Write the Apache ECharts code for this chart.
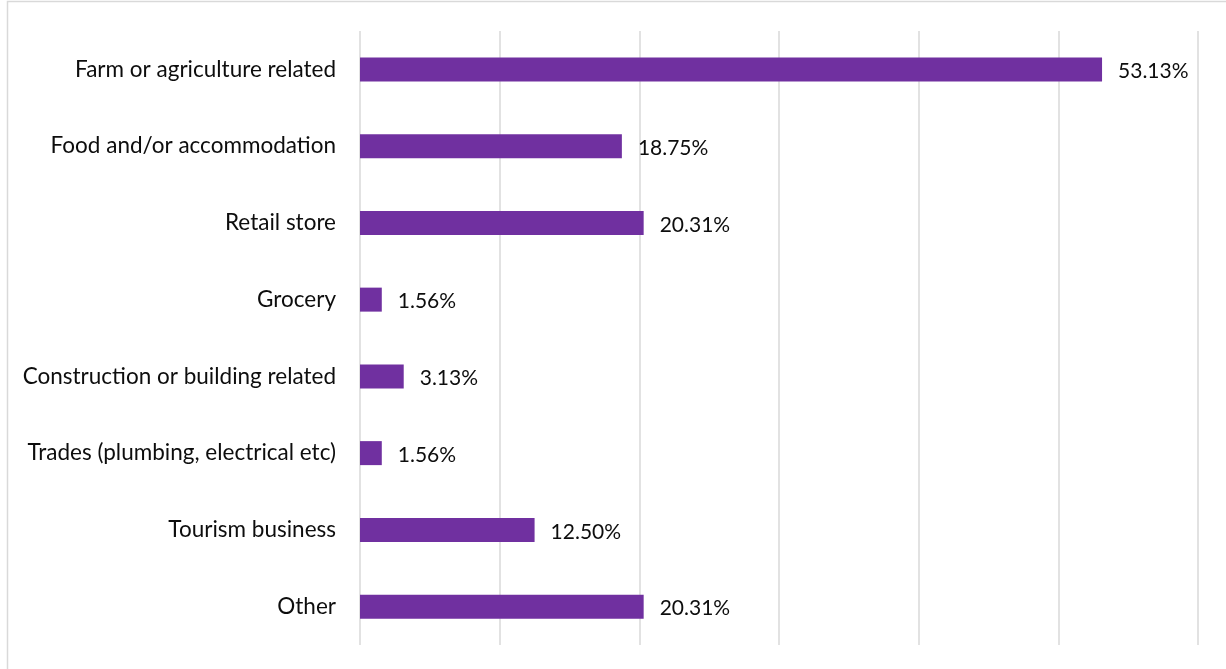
<!DOCTYPE html>
<html>
<head>
<meta charset="utf-8">
<script src="https://cdn.jsdelivr.net/npm/echarts@6/dist/echarts.min.js"></script>
<style>
html,body{margin:0;padding:0;background:#fff;}
#chart{width:1226px;height:669px;}
</style>
</head>
<body>
<div id="chart"></div>
<script>
const categories = [
  "Farm or agriculture related",
  "Food and/or accommodation",
  "Retail store",
  "Grocery",
  "Construction or building related",
  "Trades (plumbing, electrical etc)",
  "Tourism business",
  "Other"
];
const values = [53.13, 18.75, 20.31, 1.56, 3.13, 1.56, 12.50, 20.31];
const axisMin = 0;
const axisMax = 60;
const axisInterval = 10;

const chart = echarts.init(document.getElementById('chart'), null, {renderer: 'canvas'});
const FONT = 'Lato';
chart.setOption({
  backgroundColor: '#fff',
  animation: false,
  graphic: [{
    type: 'rect',
    shape: {x: 7.5, y: 1.5, width: 1300, height: 800},
    style: {fill: 'none', stroke: '#d9d9d9', lineWidth: 1.5},
    silent: true
  }],
  grid: {left: 360, right: 28, top: 31, bottom: 24, containLabel: false},
  xAxis: {
    type: 'value',
    min: axisMin, max: axisMax, interval: axisInterval,
    axisLabel: {show: false},
    axisLine: {show: false},
    axisTick: {show: false},
    splitLine: {show: true, lineStyle: {color: '#d9d9d9', width: 1.5}}
  },
  yAxis: {
    type: 'category',
    data: categories,
    inverse: true,
    axisLine: {show: false},
    axisTick: {show: false},
    splitLine: {show: false},
    axisLabel: {
      margin: 24,
      color: '#0d0d0d',
      fontFamily: FONT,
      fontSize: 22.5
    }
  },
  series: [{
    type: 'bar',
    data: values,
    barWidth: 24,
    itemStyle: {color: '#7030A0'},
    label: {
      show: true,
      position: 'right',
      distance: 16,
      offset: [0, 2],
      color: '#0d0d0d',
      fontFamily: FONT,
      fontSize: 21,
      formatter: p => p.value.toFixed(2) + '%'
    }
  }]
});
</script>
</body>
</html>
